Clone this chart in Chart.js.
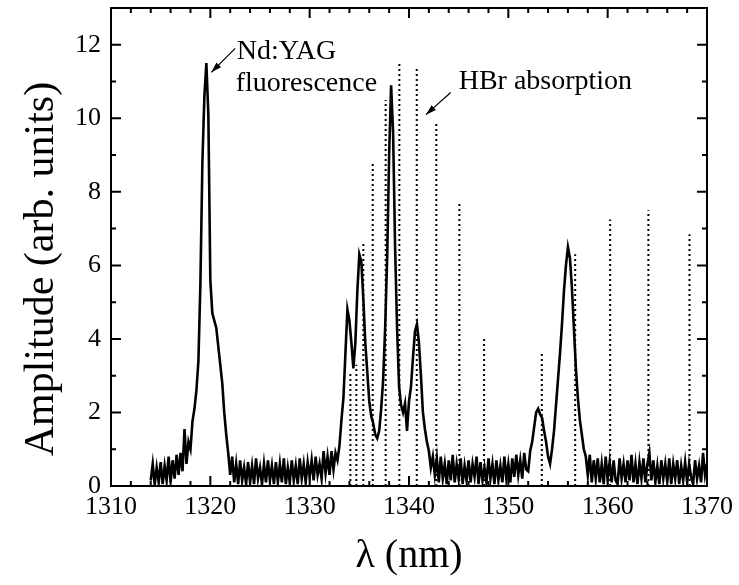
<!DOCTYPE html>
<html>
<head>
  <meta charset="utf-8" />
  <title>Nd:YAG / HBr</title>
  <style>
    html, body { margin: 0; padding: 0; background: #fff; }
    #wrap { width: 739px; height: 585px; }
  </style>
</head>
<body>
  <div id="wrap"><canvas id="stage" width="739" height="585"></canvas></div>

  <script src="https://cdn.jsdelivr.net/npm/chart.js@4.4.1/dist/chart.umd.min.js"></script>
  <script>
    // spectrum sampled every 0.2 nm starting at 1314 nm (one row = 2 nm)
    const lambdaStart = 1314;
    const lambdaStep = 0.2;
    const amplitude = [
      0.15, 0.6, 0.05, 0.5, 0.1,   0.65, 0.05, 0.55, 0.15, 0.8,
      0.1, 0.7, 0.2, 0.85, 0.3,    0.9, 0.4, 1.55, 0.6, 1.2,
      1.0, 1.75, 2.1, 2.6, 3.4,    5.5, 8.8, 10.6, 11.5, 10.1,
      5.6, 4.7, 4.5, 4.3, 3.8,     3.3, 2.8, 2.0, 1.4, 0.9,
      0.3, 0.8, 0.1, 0.6, 0.05,    0.7, 0.15, 0.5, 0.05, 0.65,
      0.1, 0.55, 0.05, 0.75, 0.2,  0.5, 0.05, 0.6, 0.1, 0.7,
      0.15, 0.55, 0.05, 0.65, 0.1, 0.6, 0.1, 0.75, 0.05, 0.5,
      0.1, 0.7, 0.15, 0.55, 0.05,  0.75, 0.2, 0.6, 0.1, 0.65,
      0.25, 0.7, 0.15, 0.8, 0.3,   0.6, 0.2, 0.95, 0.35, 0.8,
      0.3, 0.95, 0.45, 0.9, 0.7,   1.1, 1.8, 2.4, 3.6, 4.8,
      4.5, 3.9, 3.2, 3.9, 5.3,     6.3, 6.1, 5.1, 3.9, 3.1,
      2.3, 1.9, 1.7, 1.4, 1.3,     1.5, 2.1, 2.9, 4.3, 6.2,
      9.0, 10.9, 9.6, 6.5, 4.3,    2.7, 2.2, 2.0, 2.25, 1.5,
      2.3, 2.7, 3.5, 4.2, 4.4,     3.9, 3.0, 2.0, 1.55, 1.2,
      0.95, 0.5, 0.8, 0.3, 0.75,   0.1, 0.8, 0.2, 0.6, 0.05,
      0.7, 0.15, 0.85, 0.1, 0.6,   0.2, 0.75, 0.05, 0.55, 0.15,
      0.7, 0.1, 0.6, 0.25, 0.8,    0.05, 0.65, 0.15, 0.5, 0.1,
      0.75, 0.2, 0.6, 0.05, 0.7,   0.15, 0.55, 0.1, 0.8, 0.2,
      0.6, 0.1, 0.75, 0.25, 0.85,  0.3, 0.7, 0.2, 0.9, 0.45,
      0.4, 0.95, 1.2, 1.6, 2.0,    2.1, 1.95, 1.85, 1.5, 1.2,
      0.8, 0.6, 1.0, 1.5, 2.2,     2.9, 3.6, 4.4, 5.3, 6.0,
      6.5, 6.2, 5.4, 4.3, 3.2,     2.4, 1.8, 1.4, 1.0, 0.8,
      0.3, 0.85, 0.1, 0.7, 0.2,    0.75, 0.1, 0.6, 0.05, 0.8,
      0.2, 0.65, 0.1, 0.7, 0.15,   0.05, 0.75, 0.2, 0.6, 0.1,
      0.7, 0.15, 0.85, 0.1, 0.6,   0.05, 0.65, 0.2, 0.75, 0.1,
      0.6, 0.9, 0.15, 0.7, 0.1,    0.55, 0.05, 0.7, 0.2, 0.6,
      0.1, 0.75, 0.05, 0.6, 0.2,   0.7, 0.05, 0.55, 0.15, 0.65,
      0.1, 0.6, 0.25, 0.05, 0.7,   0.2, 0.55, 0.1, 0.9, 0.3,
      0.6
    ];

    // HBr absorption lines (dotted sticks)
    const hbrLambda = [1334.1, 1334.7, 1335.4, 1336.35, 1337.65, 1339.03, 1340.78, 1342.75,
                       1345.07, 1347.56, 1353.37, 1356.73, 1360.25, 1364.1, 1368.24];
    const hbrHeight = [3.1, 3.3, 6.6, 8.8, 10.5, 11.5, 11.4, 9.9,
                       7.7, 4.0, 3.65, 6.3, 7.25, 7.5, 6.85];

    const xTicks = [1310, 1320, 1330, 1340, 1350, 1360, 1370];
    const yTicks = [0, 2, 4, 6, 8, 10, 12];

    const spectrum = amplitude.map((v, i) => ({ x: lambdaStart + i * lambdaStep, y: v }));
    const sticks = [];
    hbrLambda.forEach((l, i) => {
      sticks.push({ x: l, y: 0 }, { x: l, y: hbrHeight[i] }, { x: l, y: null });
    });

    const SERIF = '"Liberation Serif", "DejaVu Serif", serif';

    // frame + inward ticks on all four sides, y title, and the two labels with arrows
    const framePlugin = {
      id: 'frame',
      afterDraw(chart) {
        const ctx = chart.ctx;
        const a = chart.chartArea;
        const xs = chart.scales.x, ys = chart.scales.y;
        ctx.save();
        ctx.strokeStyle = '#000';
        ctx.lineWidth = 2;
        ctx.strokeRect(a.left, a.top, a.right - a.left, a.bottom - a.top);
        ctx.beginPath();
        for (let v = 1310; v <= 1370; v += 2) {
          const px = xs.getPixelForValue(v);
          const len = (v % 10 === 0) ? 10 : 5;
          ctx.moveTo(px, a.bottom); ctx.lineTo(px, a.bottom - len);
          ctx.moveTo(px, a.top); ctx.lineTo(px, a.top + len);
        }
        for (let v = 0; v <= 13; v += 1) {
          const py = ys.getPixelForValue(v);
          const len = (v % 2 === 0) ? 10 : 5;
          ctx.moveTo(a.left, py); ctx.lineTo(a.left + len, py);
          ctx.moveTo(a.right, py); ctx.lineTo(a.right - len, py);
        }
        ctx.stroke();

        ctx.fillStyle = '#000';

        // y axis title, sits a bit below the middle of the axis in the original
        ctx.save();
        ctx.translate(42, ys.getPixelForValue(5.9));
        ctx.rotate(-Math.PI / 2);
        ctx.font = '42px ' + SERIF;
        ctx.textAlign = 'center';
        ctx.textBaseline = 'middle';
        ctx.fillText('Amplitude (arb. units)', 0, 0);
        ctx.restore();

        ctx.font = '28px ' + SERIF;
        ctx.textBaseline = 'alphabetic';
        ctx.textAlign = 'left';
        ctx.fillText('Nd:YAG', xs.getPixelForValue(1322.65), ys.getPixelForValue(11.6));
        ctx.fillText('fluorescence', xs.getPixelForValue(1322.55), ys.getPixelForValue(10.75));
        ctx.fillText('HBr absorption', xs.getPixelForValue(1345.0), ys.getPixelForValue(10.8));

        const arrow = (x0, y0, x1, y1) => {
          const p0 = [xs.getPixelForValue(x0), ys.getPixelForValue(y0)];
          const p1 = [xs.getPixelForValue(x1), ys.getPixelForValue(y1)];
          const ang = Math.atan2(p1[1] - p0[1], p1[0] - p0[0]);
          ctx.lineWidth = 1.2;
          ctx.beginPath();
          ctx.moveTo(p0[0], p0[1]); ctx.lineTo(p1[0], p1[1]);
          ctx.stroke();
          ctx.beginPath();
          ctx.moveTo(p1[0], p1[1]);
          ctx.lineTo(p1[0] - 11 * Math.cos(ang - 0.3), p1[1] - 11 * Math.sin(ang - 0.3));
          ctx.lineTo(p1[0] - 11 * Math.cos(ang + 0.3), p1[1] - 11 * Math.sin(ang + 0.3));
          ctx.closePath();
          ctx.fill();
        };
        arrow(1322.5, 11.9, 1320.1, 11.25);
        arrow(1344.2, 10.7, 1341.7, 10.1);
        ctx.restore();
      }
    };

    // no extra room for half tick labels at the ends of the axes
    const noPad = s => { s.paddingTop = 0; s.paddingBottom = 0; s.paddingLeft = 0; s.paddingRight = 0; };

    new Chart(document.getElementById('stage'), {
      type: 'line',
      data: {
        datasets: [{
          label: 'HBr absorption',
          data: sticks,
          borderColor: '#000',
          borderWidth: 2,
          borderDash: [2, 3],
          pointRadius: 0,
          spanGaps: false
        }, {
          label: 'Nd:YAG fluorescence',
          data: spectrum,
          borderColor: '#000',
          borderWidth: 2.6,
          pointRadius: 0,
          tension: 0
        }]
      },
      options: {
        responsive: false,
        animation: false,
        layout: { autoPadding: false, padding: { top: 8, right: 32, left: 0, bottom: 0 } },
        plugins: { legend: { display: false }, tooltip: { enabled: false } },
        scales: {
          x: {
            type: 'linear',
            min: 1310, max: 1370,
            afterBuildTicks: s => { s.ticks = xTicks.map(v => ({ value: v })); },
            afterFit: s => { s.height = 99; noPad(s); },
            grid: { display: false, drawTicks: false },
            border: { display: false },
            ticks: { color: '#000', padding: 6, maxRotation: 0, callback: v => String(v),
                     font: { family: SERIF, size: 26 } },
            title: { display: true, text: 'λ (nm)', color: '#000', padding: { top: 0, bottom: 5 },
                     font: { family: SERIF, size: 40 } }
          },
          y: {
            type: 'linear',
            min: 0, max: 13,
            afterBuildTicks: s => { s.ticks = yTicks.map(v => ({ value: v })); },
            afterFit: s => { s.width = 111; noPad(s); },
            grid: { display: false, drawTicks: false },
            border: { display: false },
            ticks: { color: '#000', padding: 10, callback: v => String(v),
                     font: { family: SERIF, size: 26 } },
            title: { display: false, text: 'Amplitude (arb. units)' }
          }
        }
      },
      plugins: [framePlugin]
    });
  </script>
</body>
</html>
